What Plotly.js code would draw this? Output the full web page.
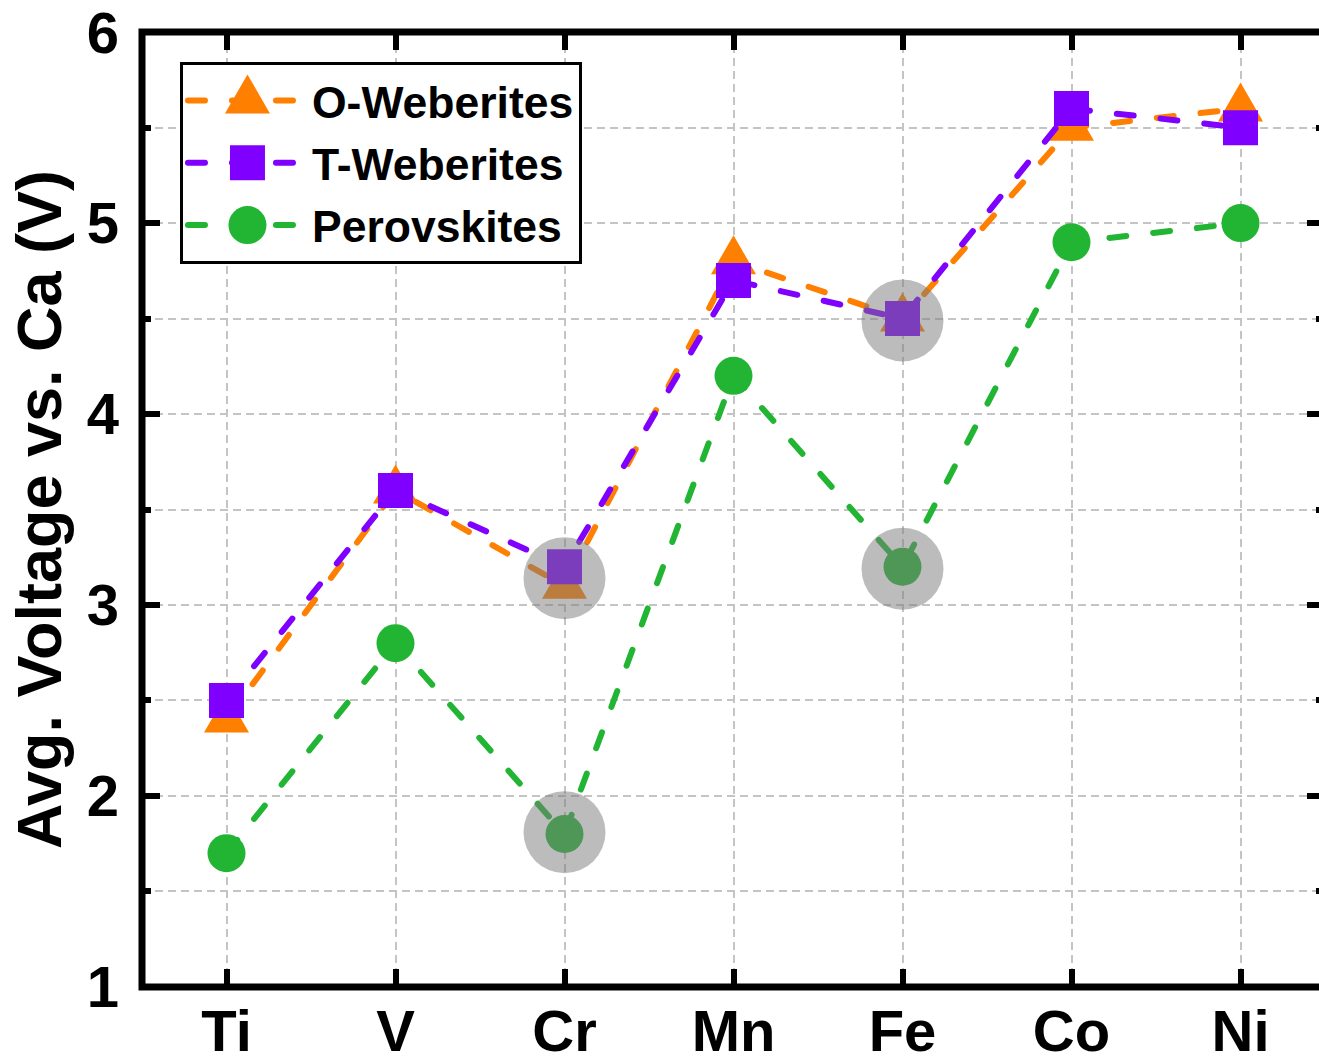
<!DOCTYPE html>
<html><head><meta charset="utf-8">
<script src="https://cdn.plot.ly/plotly-3.0.1.min.js"></script>
<style>
html,body{margin:0;padding:0;overflow:hidden;background:#fff;}
#chart{width:1330px;height:1060px;}
.js-line{stroke-linecap:round;}
</style></head><body><div id="chart"></div>
<script>
// ---- data ----
const elements = ['Ti','V','Cr','Mn','Fe','Co','Ni'];
const oWeberites = [2.4,3.6,3.1,4.8,4.5,5.5,5.6];
const tWeberites = [2.5,3.6,3.2,4.7,4.5,5.6,5.5];
const perovskites = [1.7,2.8,1.8,4.2,3.2,4.9,5.0];
const highlightElements = ['Cr','Fe','Cr','Fe'];
const highlightValues = [3.14,4.49,1.81,3.19];
const yTickVals = [1,2,3,4,5,6];
const yTickText = ['1','2','3','4','5','6'];
const seriesNames = ['O-Weberites','T-Weberites','Perovskites'];

const FONT = 'Liberation Sans, Arial, Helvetica, sans-serif';
const DASH = '17px,27px';
const LW = 6;

const traces = [
  {x: elements, y: perovskites, name: seriesNames[2], legendrank: 3, legendgroup: 'p',
   type: 'scatter', mode: 'lines+markers',
   line: {color: '#22b534', width: LW, dash: DASH},
   marker: {symbol: 'circle', size: 38, color: '#22b534'}},
  {x: elements, y: oWeberites, name: seriesNames[0], legendrank: 1, legendgroup: 'o',
   type: 'scatter', mode: 'lines+markers',
   line: {color: '#ff7f00', width: LW, dash: DASH},
   marker: {symbol: 'triangle-up', size: 39, color: '#ff7f00'}},
  {x: elements, y: tWeberites, name: seriesNames[1], legendrank: 2, legendgroup: 't',
   type: 'scatter', mode: 'lines+markers',
   line: {color: '#7f00ff', width: LW, dash: DASH},
   marker: {symbol: 'square', size: 35, color: '#7f00ff'}},
  {x: highlightElements, y: highlightValues, type: 'scatter', mode: 'markers',
   showlegend: false, hoverinfo: 'skip',
   marker: {symbol: 'circle', size: 82, color: 'rgba(122,122,122,0.5)'}}
];

const gridCommon = {gridcolor: '#c4c4c4', gridwidth: 2, griddash: '8px,5px'};
const tickFont = {family: FONT, size: 58, weight: 'bold', color: '#000'};

const layout = {
  width: 1330, height: 1060,
  margin: {l: 142, r: 5, t: 32, b: 73},
  paper_bgcolor: '#fff', plot_bgcolor: '#fff',
  showlegend: true,
  legend: {
    x: 0.0321, y: 0.9686, xanchor: 'left', yanchor: 'top',
    bgcolor: '#fff', bordercolor: '#000', borderwidth: 3,
    font: {family: FONT, size: 44.5, weight: 'bold', color: '#000'},
    itemwidth: 119, tracegroupgap: 1.5, traceorder: 'grouped'
  },
  xaxis: Object.assign({
    type: 'category', range: [-0.5, 6.5],
    showline: false, mirror: 'allticks',
    ticks: 'inside', ticklen: 18, tickwidth: 6, tickcolor: '#000',
    showgrid: true, zeroline: false, ticklabelstandoff: 5,
    ticklabeloverflow: 'allow',
    tickfont: tickFont
  }, gridCommon),
  yaxis: Object.assign({
    range: [0.999, 6.001], tickmode: 'array', tickvals: yTickVals, ticktext: yTickText,
    showline: false, mirror: 'allticks',
    ticks: 'inside', ticklen: 18, tickwidth: 6, tickcolor: '#000',
    showgrid: true, zeroline: false, ticklabelstandoff: 22,
    ticklabeloverflow: 'allow',
    tickfont: tickFont,
    minor: Object.assign({tickmode: 'linear', tick0: 1, dtick: 0.5, ticks: 'inside',
      ticklen: 9, tickwidth: 6, tickcolor: '#000', showgrid: true}, gridCommon),
    title: {text: 'Avg. Voltage vs. Ca (V)', standoff: 4,
      font: {family: FONT, size: 63, weight: 'bold', color: '#000'}}
  }, gridCommon),
  shapes: [{type: 'rect', xref: 'paper', yref: 'paper', x0: 0, x1: 1, y0: 0, y1: 1,
    line: {color: '#000', width: 7}, fillcolor: 'rgba(0,0,0,0)', layer: 'above'}]
};

Plotly.newPlot('chart', traces, layout, {displayModeBar: false, staticPlot: true}).then(function(gd) {
  // enlarge legend symbols to match the figure's marker sizes
  const want = {'triangle-up': [45, 39], 'square': [35, 35], 'circle': [38, 38]};
  gd.querySelectorAll('.legend .traces').forEach(function(el) {
    const d = el.__data__;
    const tr = d && d[0] && d[0].trace;
    const p = el.querySelector('path.scatterpts');
    if (!tr || !p || !tr.marker) return;
    const w = want[tr.marker.symbol];
    if (!w) return;
    const bb = p.getBBox();
    if (!bb.width || !bb.height) return;
    const sx = w[0] / bb.width, sy = w[1] / bb.height;
    p.setAttribute('transform', (p.getAttribute('transform') || '') + ' scale(' + sx + ',' + sy + ')');
  });
  // make the plot's triangles equilateral like the original figure
  gd.querySelectorAll('.scatterlayer .trace').forEach(function(el) {
    const d = el.__data__;
    const tr = d && d[0] && d[0].trace;
    if (!tr || !tr.marker || tr.marker.symbol !== 'triangle-up') return;
    el.querySelectorAll('path.point').forEach(function(p) {
      const bb = p.getBBox();
      if (!bb.width || !bb.height) return;
      p.setAttribute('transform', (p.getAttribute('transform') || '') +
        ' scale(' + (45 / bb.width) + ',' + (39 / bb.height) + ')');
    });
  });
});
</script></body></html>
